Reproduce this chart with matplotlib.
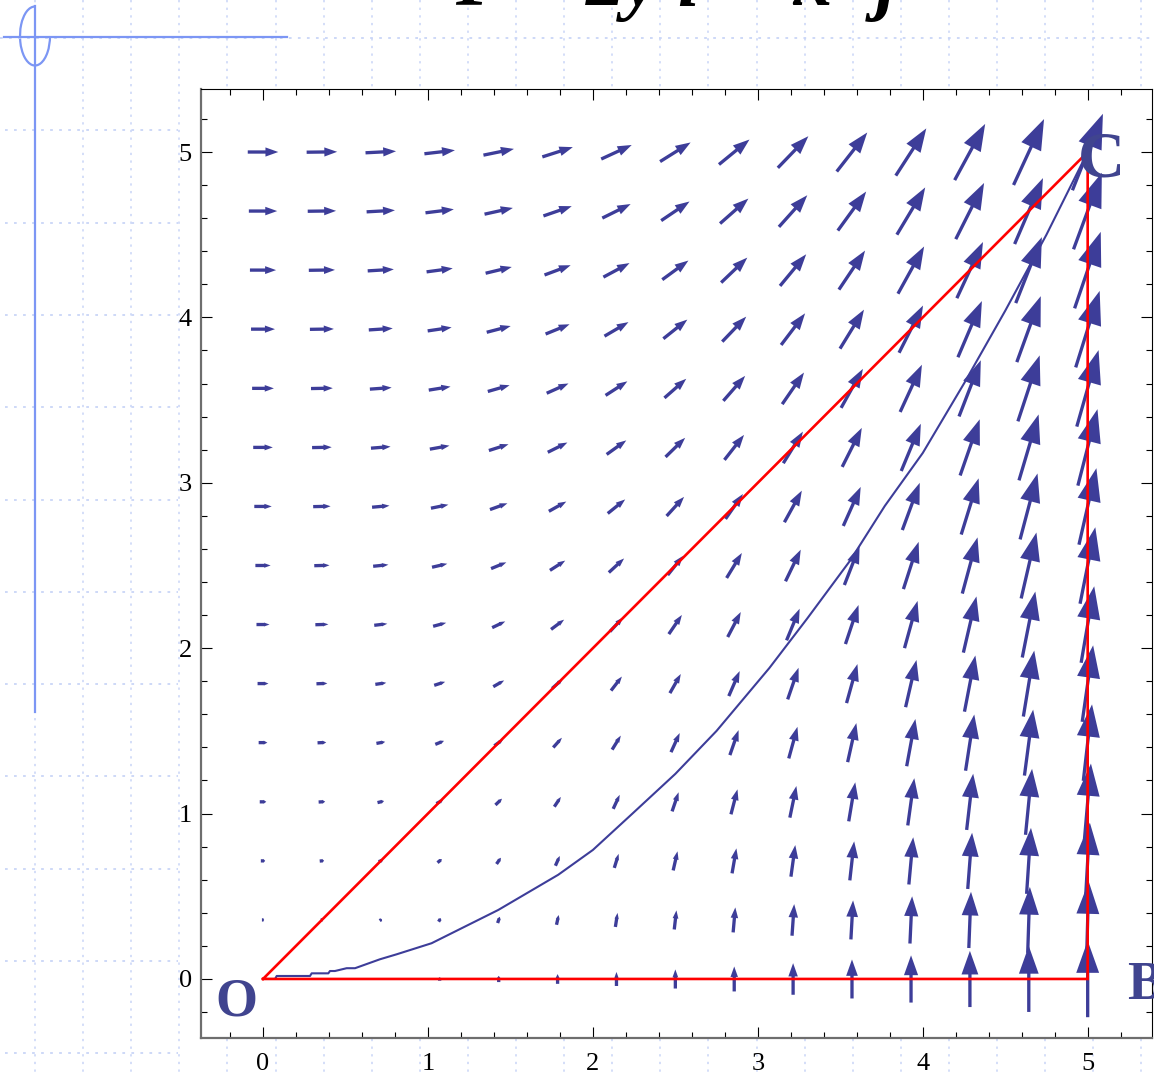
import matplotlib.pyplot as plt
from matplotlib.patches import Arc
from matplotlib.ticker import MultipleLocator

plt.rcParams["font.family"] = ["Liberation Serif", "DejaVu Serif"]

# sample points of the vector field (15 x 15 grid on [0, 5])
grid_x = [0, 0.357, 0.714, 1.071, 1.429, 1.786, 2.143, 2.5, 2.857, 3.214, 3.571, 3.929, 4.286, 4.643, 5.0]
grid_y = [0, 0.357, 0.714, 1.071, 1.429, 1.786, 2.143, 2.5, 2.857, 3.214, 3.571, 3.929, 4.286, 4.643, 5.0]

# F = 2y i + x^2 j : i-component for each row, j-component for each column
field_i = [0, 0.714, 1.429, 2.143, 2.857, 3.571, 4.286, 5.0, 5.714, 6.429, 7.143, 7.857, 8.571, 9.286, 10.0]
field_j = [0, 0.128, 0.510, 1.148, 2.041, 3.189, 4.592, 6.25, 8.163, 10.332, 12.755, 15.434, 18.367, 21.556, 25.0]

# closed path O -> B -> C -> O
path_x = [0, 5, 5, 0]
path_y = [0, 0, 5, 0]

# curved path from O to C
curve_x = [0, 0.073, 0.083, 0.285, 0.295, 0.396, 0.406, 0.436, 0.507, 0.558, 0.709, 0.81, 1.022,
           1.426, 1.79, 2.0, 2.24, 2.5, 2.75, 3.07, 3.3, 3.56, 3.77, 4.0, 4.25, 4.5, 4.75, 5.0]
curve_y = [0, 0, 0.018, 0.018, 0.034, 0.034, 0.048, 0.048, 0.065, 0.065, 0.119, 0.149, 0.216,
           0.417, 0.63, 0.78, 1.0, 1.24, 1.5, 1.88, 2.18, 2.53, 2.86, 3.18, 3.6, 4.04, 4.5, 5.0]

point_names = ["O", "B", "C"]
tick_vals = [0, 1, 2, 3, 4, 5]

ARROW = "#3D3D99"
LABEL = "#40448F"
GRID = "#C9D5F7"
DECOR = "#7C96F4"
W, H = 1154, 1076

fig = plt.figure(figsize=(W / 100, H / 100), dpi=100, facecolor="white")

# slide background: dotted grid and the blue corner mark
bg = fig.add_axes([0, 0, 1, 1], zorder=0)
bg.set_xlim(0, W)
bg.set_ylim(H, 0)
bg.axis("off")
for k in range(25):
    gx = 35 + 48.1 * k
    bg.plot([gx, gx], [0, H], color=GRID, lw=1.1, dashes=(1.5, 3.5))
bg.plot([0, W], [38, 38], color=GRID, lw=1.3, dashes=(1.5, 3.5))
for k in range(1, 12):
    gy = 38 + 92.3 * k
    bg.plot([5, 178], [gy, gy], color=GRID, lw=1.3, dashes=(1.5, 3.5))
bg.plot([4, 287], [37, 37], color=DECOR, lw=1.6)
bg.plot([35, 35], [6, 712], color=DECOR, lw=1.6)
bg.add_patch(Arc((35, 36), 30, 59, theta1=0, theta2=270, color=DECOR, lw=1.6))

# title, mostly above the top edge of the slide
title_kw = dict(fontsize=56, weight="bold", style="italic", va="baseline")
fig.text(455 / W, 1 - 5 / H, "F =", ha="left", **title_kw)
fig.text(700 / W, 1 - 5 / H, "2y i", ha="right", **title_kw)
fig.text(897 / W, 1 - 5 / H, "+ x\u00b2 j", ha="right", **title_kw)

ax = fig.add_axes([201 / W, 38 / H, 951 / W, 949 / H], zorder=1)
ax.set_facecolor("white")
ax.set_xlim(-0.376, 5.39)
ax.set_ylim(-0.357, 5.381)

# arrows centred on the grid points, length proportional to |F|
arrow_scale = 0.0185
shaft = 0.02
for r, gy in enumerate(grid_y):
    for c, gx in enumerate(grid_x):
        u = field_i[r] * arrow_scale
        v = field_j[c] * arrow_scale
        length = (u * u + v * v) ** 0.5
        if length == 0:
            continue
        ax.arrow(gx - u / 2, gy - v / 2, u, v, width=shaft,
                 head_width=max(0.3 * length, shaft * 1.2), head_length=0.42 * length,
                 length_includes_head=True, color=ARROW, lw=0, zorder=3)

ax.plot(curve_x, curve_y, color=ARROW, lw=1.5, zorder=3.5)
ax.plot(path_x, path_y, color="#FF0000", lw=1.9, zorder=4, solid_joinstyle="miter")

lbl = dict(weight="bold", color=LABEL, va="baseline", zorder=5, clip_on=False)
ax.text(-0.164, -0.218, point_names[0], fontsize=39, ha="center", **lbl)
ax.text(5.24, -0.121, point_names[1], fontsize=39, ha="left", **lbl)
ax.text(5.085, 4.85, point_names[2], fontsize=47, ha="center", **lbl)

ax.set_xticks(tick_vals)
ax.set_yticks(tick_vals)
ax.xaxis.set_minor_locator(MultipleLocator(0.2))
ax.yaxis.set_minor_locator(MultipleLocator(0.2))
ax.tick_params(which="both", direction="in", top=True, right=True, color="black", width=0.8)
ax.tick_params(which="major", length=8, labelsize=19)
ax.tick_params(which="minor", length=4.3)
ax.tick_params(axis="x", pad=10.5)
ax.tick_params(axis="y", pad=6.5)

for side in ("left", "bottom"):
    ax.spines[side].set_color("#6E6E6E")
    ax.spines[side].set_linewidth(1.6)
for side in ("top", "right"):
    ax.spines[side].set_color("black")
    ax.spines[side].set_linewidth(0.8)

fig.savefig("out.png", dpi=100)
